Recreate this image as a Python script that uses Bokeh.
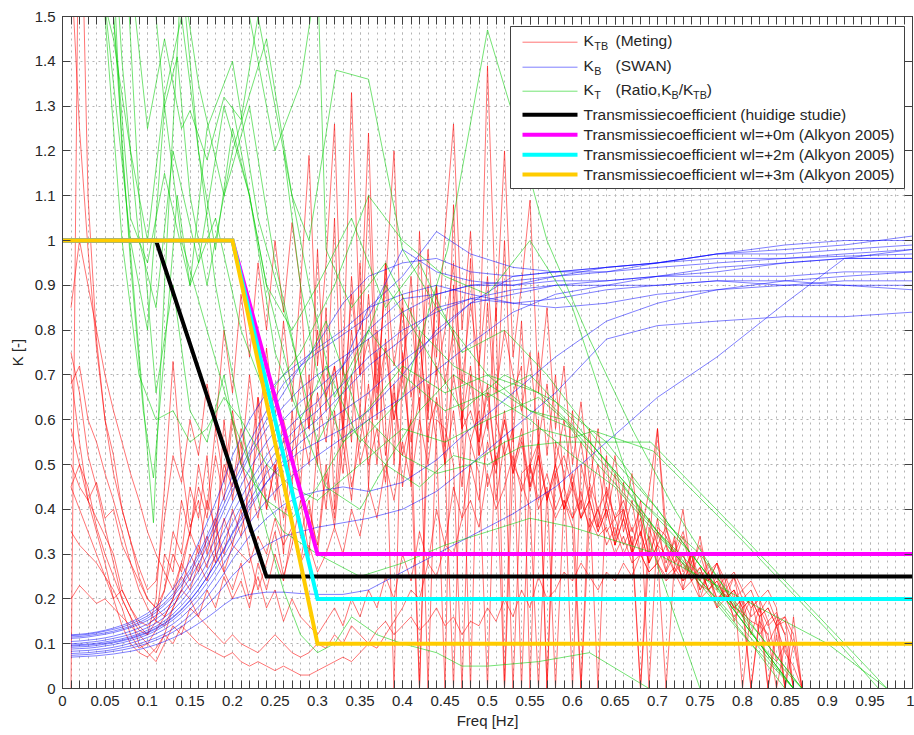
import numpy as np
from bokeh.plotting import figure
from bokeh.models import Range1d, FixedTicker, LinearAxis, CustomJSTickFormatter
from bokeh.embed import file_html
from bokeh.resources import INLINE
from bokeh.core.properties import value

FONT = "Liberation Sans"

# ---------------------------------------------------------------- data
# measured spectra are given on 0.01 Hz bins starting at 0.01 Hz
FREQ_BINS = np.round(np.arange(1, 101) * 0.01, 2)

# K_TB (Meting): one list per measurement, values per 0.01 Hz bin
ktb_meting = [
    [1.62, 1.25, 0.98, 0.76, 0.60, 0.48, 0.40, 0.33, 0.27, 0.22,
     0.24, 0.38, 0.52, 0.46, 0.60, 0.52, 0.68, 0.58, 0.80, 0.66,
     0.88, 0.74, 0.95, 0.80, 1.00, 0.84, 1.04, 0.90, 1.19, 0.72,
     0.95, 1.26, 0.70, 1.33, 0.80, 1.24, 0.68, 0.90, 1.20, 0.70,
     0.92, 0.66, 0.98, 0.74, 1.02, 1.26, 0.80, 1.02, 0.70, 1.39,
     0.82, 1.20, 0.74, 0.90, 1.09, 0.66, 0.85, 0.58, 0.72, 0.50,
     0.64, 0.46, 0.58, 0.42, 0.52, 0.38, 0.48, 0.34, 0.44, 0.58,
     0.36, 0.30, 0.40, 0.26, 0.34, 0.24, 0.28, 0.20, 0.25, 0.16,
     0.20, 0.12, 0.15, 0.06, 0.10, 0.00],
    [0.75, 0.66, 0.52, 0.45, 0.36, 0.28, 0.20, 0.16, 0.13, 0.12,
     0.15, 0.30, 0.26, 0.42, 0.34, 0.50, 0.40, 0.58, 0.46, 0.62,
     0.50, 0.70, 0.55, 0.76, 0.60, 0.82, 0.64, 0.90, 0.58, 0.98,
     0.62, 1.05, 0.55, 0.92, 0.70, 1.10, 0.60, 0.95, 0.50, 0.88,
     0.45, 1.02, 0.62, 0.90, 0.50, 1.08, 0.58, 0.96, 0.52, 0.86,
     0.60, 1.00, 0.55, 0.82, 0.48, 0.75, 0.52, 0.70, 0.45, 0.62,
     0.40, 0.58, 0.36, 0.52, 0.32, 0.46, 0.30, 0.42, 0.28, 0.38,
     0.26, 0.34, 0.22, 0.30, 0.20, 0.26, 0.18, 0.24, 0.15, 0.20,
     0.12, 0.18, 0.10, 0.14, 0.08, 0.05, 0.00],
    [0.00, 1.95, 1.10, 0.78, 0.60, 0.52, 0.40, 0.33, 0.25, 0.20,
     0.18, 0.22, 0.35, 0.30, 0.45, 0.38, 0.52, 0.30, 0.60, 0.42,
     0.55, 0.35, 0.65, 0.40, 0.50, 0.30, 0.62, 0.45, 0.70, 0.50,
     0.85, 0.40, 0.72, 0.55, 0.95, 0.45, 0.80, 0.60, 0.00, 0.75,
     0.50, 0.00, 0.68, 0.55, 0.00, 0.90, 0.62, 0.00, 0.70, 0.58,
     0.85, 0.00, 0.66, 0.72, 0.00, 0.60, 0.00, 0.55, 0.48, 0.00,
     0.50, 0.42, 0.00, 0.45, 0.38, 0.40, 0.32, 0.00, 0.36, 0.30,
     0.00, 0.28, 0.25, 0.30, 0.22, 0.26, 0.20, 0.22, 0.18, 0.20,
     0.00, 0.16, 0.00, 0.12, 0.00, 0.10, 0.00],
    [0.58, 0.50, 0.45, 0.36, 0.30, 0.25, 0.20, 0.16, 0.10, 0.08,
     0.06, 0.10, 0.14, 0.12, 0.18, 0.16, 0.22, 0.18, 0.25, 0.20,
     0.24, 0.18, 0.28, 0.22, 0.30, 0.24, 0.35, 0.28, 0.40, 0.32,
     0.50, 0.38, 0.60, 0.45, 0.55, 0.68, 0.50, 0.78, 0.60, 0.72,
     0.85, 0.62, 0.90, 0.70, 0.80, 0.95, 0.68, 0.86, 0.72, 0.92,
     0.66, 0.80, 0.70, 0.62, 0.75, 0.55, 0.68, 0.50, 0.60, 0.45,
     0.55, 0.42, 0.50, 0.38, 0.48, 0.35, 0.42, 0.30, 0.38, 0.32,
     0.36, 0.28, 0.34, 0.26, 0.30, 0.24, 0.28, 0.22, 0.25, 0.20,
     0.22, 0.17, 0.20, 0.15, 0.16, 0.12, 0.00],
    [0.70, 0.55, 0.42, 0.35, 0.28, 0.20, 0.14, 0.10, 0.08, 0.07,
     0.09, 0.12, 0.10, 0.14, 0.12, 0.10, 0.09, 0.08, 0.07, 0.08,
     0.06, 0.05, 0.06, 0.05, 0.04, 0.05, 0.04, 0.03, 0.03, 0.04,
     0.05, 0.06, 0.07, 0.06, 0.08, 0.10, 0.09, 0.12, 0.15, 0.18,
     0.22, 0.20, 0.28, 0.25, 0.32, 0.30, 0.38, 0.42, 0.36, 0.48,
     0.40, 0.45, 0.52, 0.44, 0.50, 0.42, 0.48, 0.40, 0.45, 0.38,
     0.42, 0.36, 0.40, 0.35, 0.38, 0.32, 0.36, 0.30, 0.34, 0.28,
     0.32, 0.26, 0.30, 0.24, 0.27, 0.22, 0.24, 0.20, 0.22, 0.18,
     0.20, 0.16, 0.18, 0.14, 0.15, 0.10],
    [0.45, 0.40, 0.35, 0.30, 0.25, 0.22, 0.18, 0.12, 0.09, 0.10,
     0.08, 0.12, 0.18, 0.22, 0.20, 0.16, 0.14, 0.12, 0.10, 0.12,
     0.10, 0.09, 0.08, 0.10, 0.12, 0.10, 0.08, 0.07, 0.08, 0.10,
     0.09, 0.12, 0.10, 0.14, 0.12, 0.10, 0.13, 0.15, 0.12, 0.14,
     0.16, 0.13, 0.15, 0.18, 0.14, 0.16, 0.12, 0.15, 0.14, 0.18,
     0.15, 0.20, 0.16, 0.22, 0.18, 0.25, 0.20, 0.22, 0.26, 0.24,
     0.28, 0.25, 0.22, 0.26, 0.24, 0.28, 0.25, 0.30, 0.26, 0.28,
     0.25, 0.27, 0.24, 0.26, 0.23, 0.22, 0.20, 0.21, 0.18, 0.17,
     0.15, 0.14, 0.12],
    [0.50, 0.45, 0.42, 0.38, 0.34, 0.30, 0.22, 0.18, 0.14, 0.12,
     0.20, 0.45, 0.73, 0.50, 0.36, 0.42, 0.30, 0.38, 0.26, 0.32,
     0.40, 0.30, 0.22, 0.28, 0.35, 0.25, 0.32, 0.42, 0.30, 0.55,
     0.40, 0.62, 0.48, 0.70, 0.50, 0.58, 0.75, 0.52, 0.68, 0.45,
     0.60, 0.80, 0.55, 0.72, 0.50, 0.62, 0.45, 0.70, 0.52, 0.60,
     0.42, 0.55, 0.00, 0.48, 0.50, 0.40, 0.45, 0.00, 0.42, 0.38,
     0.44, 0.35, 0.40, 0.32, 0.36, 0.30, 0.34, 0.00, 0.30, 0.58,
     0.32, 0.28, 0.30, 0.25, 0.27, 0.22, 0.25, 0.20, 0.22, 0.00,
     0.18, 0.20, 0.00, 0.15, 0.00],
    [0.35, 0.32, 0.30, 0.28, 0.25, 0.20, 0.22, 0.18, 0.15, 0.14,
     0.16, 0.22, 0.30, 0.26, 0.35, 0.45, 0.38, 0.52, 0.42, 0.60,
     0.50, 0.45, 0.55, 0.40, 0.50, 0.38, 0.46, 0.34, 0.42, 0.30,
     0.48, 0.36, 0.55, 0.42, 0.62, 0.50, 0.58, 0.46, 0.66, 0.52,
     0.60, 0.00, 0.58, 0.64, 0.50, 0.00, 0.62, 0.55, 0.48, 0.00,
     0.60, 0.52, 0.58, 0.00, 0.50, 0.55, 0.00, 0.48, 0.52, 0.45,
     0.00, 0.46, 0.40, 0.44, 0.38, 0.42, 0.35, 0.40, 0.00, 0.36,
     0.34, 0.30, 0.35, 0.28, 0.32, 0.26, 0.28, 0.24, 0.26, 0.22,
     0.24, 0.20, 0.22, 0.18, 0.00, 0.16, 0.00],
    [0.20, 0.23, 0.21, 0.19, 0.20, 0.18, 0.16, 0.14, 0.12, 0.10,
     0.13, 0.16, 0.20, 0.25, 0.22, 0.28, 0.24, 0.30, 0.26, 0.22,
     0.28, 0.20, 0.25, 0.18, 0.22, 0.15, 0.20, 0.16, 0.14, 0.12,
     0.15, 0.18, 0.14, 0.20, 0.16, 0.22, 0.18, 0.25, 0.20, 0.30,
     0.24, 0.35, 0.28, 0.40, 0.32, 0.45, 0.38, 0.50, 0.42, 0.55,
     0.48, 0.60, 0.50, 0.56, 0.45, 0.52, 0.42, 0.50, 0.40, 0.46,
     0.38, 0.42, 0.35, 0.40, 0.32, 0.38, 0.30, 0.35, 0.28, 0.32,
     0.26, 0.30, 0.24, 0.28, 0.22, 0.25, 0.20, 0.22, 0.18, 0.20,
     0.16, 0.18, 0.14, 0.16, 0.12],
    [0.45, 0.50, 0.42, 0.46, 0.38, 0.40, 0.32, 0.28, 0.24, 0.20,
     0.18, 0.16, 0.20, 0.28, 0.35, 0.30, 0.42, 0.36, 0.50, 0.45,
     0.58, 0.50, 0.65, 0.55, 0.48, 0.60, 0.52, 0.70, 0.58, 0.80,
     0.65, 0.72, 0.60, 0.88, 0.70, 0.78, 0.62, 0.95, 0.72, 0.85,
     0.65, 0.78, 0.60, 0.90, 0.68, 0.80, 0.60, 0.72, 0.55, 0.66,
     0.50, 0.62, 0.48, 0.58, 0.45, 0.55, 0.42, 0.50, 0.40, 0.48,
     0.38, 0.45, 0.36, 0.42, 0.34, 0.40, 0.32, 0.38, 0.30, 0.35,
     0.28, 0.33, 0.26, 0.30, 0.24, 0.28, 0.22, 0.25, 0.20, 0.22,
     0.18, 0.20, 0.15, 0.17, 0.12, 0.00],
    [0.85, 1.00, 0.90, 0.80, 0.70, 0.62, 0.55, 0.48, 0.42, 0.35,
     0.30, 0.26, 0.22, 0.28, 0.24, 0.32, 0.27, 0.36, 0.30, 0.40,
     0.34, 0.45, 0.38, 0.50, 0.42, 0.56, 0.46, 0.60, 0.50, 0.66,
     0.55, 0.72, 0.58, 0.80, 0.62, 0.88, 0.66, 0.76, 0.60, 0.70,
     0.55, 0.65, 0.00, 0.60, 0.58, 0.50, 0.00, 0.55, 0.62, 0.45,
     0.52, 0.00, 0.50, 0.46, 0.40, 0.00, 0.44, 0.38, 0.42, 0.36,
     0.00, 0.38, 0.34, 0.36, 0.30, 0.34, 0.28, 0.30, 0.26, 0.28,
     0.24, 0.26, 0.22, 0.24, 0.20, 0.22, 0.18, 0.20, 0.16, 0.18,
     0.00, 0.15, 0.12, 0.00, 0.10],
    [0.68, 0.72, 0.60, 0.55, 0.48, 0.42, 0.35, 0.28, 0.22, 0.18,
     0.15, 0.14, 0.18, 0.22, 0.30, 0.26, 0.34, 0.28, 0.38, 0.32,
     0.30, 0.28, 0.34, 0.30, 0.38, 0.32, 0.36, 0.28, 0.32, 0.26,
     0.30, 0.36, 0.30, 0.40, 0.34, 0.45, 0.38, 0.50, 0.42, 0.55,
     0.46, 0.60, 0.50, 0.65, 0.54, 0.70, 0.58, 0.62, 0.55, 0.68,
     0.50, 0.60, 0.48, 0.55, 0.44, 0.52, 0.42, 0.48, 0.40, 0.45,
     0.38, 0.42, 0.35, 0.40, 0.32, 0.38, 0.30, 0.35, 0.28, 0.32,
     0.30, 0.26, 0.28, 0.24, 0.26, 0.22, 0.24, 0.20, 0.22, 0.18,
     0.20, 0.16, 0.18, 0.14, 0.16, 0.00],
]

# K_B (SWAN): fine bins up to 0.2 Hz, coarser above
swan_freq = [0.01, 0.02, 0.03, 0.04, 0.05, 0.06, 0.07, 0.08, 0.09, 0.10,
             0.11, 0.12, 0.13, 0.14, 0.15, 0.16, 0.17, 0.18, 0.19, 0.20,
             0.22, 0.24, 0.26, 0.28, 0.30, 0.33, 0.36, 0.40, 0.44, 0.48,
             0.53, 0.58, 0.64, 0.70, 0.77, 0.85, 0.92, 1.00]
kb_swan = [
    [0.120, 0.121, 0.123, 0.126, 0.130, 0.135, 0.141, 0.148, 0.157, 0.168,
     0.182, 0.200, 0.222, 0.250, 0.285, 0.325, 0.370, 0.415, 0.465, 0.520,
     0.60, 0.66, 0.70, 0.73, 0.76, 0.80, 0.85, 0.92, 1.02, 0.97, 0.94, 0.93, 0.93, 0.94, 0.95, 0.96, 0.965, 0.97],
    [0.118, 0.119, 0.121, 0.124, 0.128, 0.132, 0.137, 0.144, 0.152, 0.162,
     0.175, 0.191, 0.211, 0.236, 0.266, 0.300, 0.340, 0.382, 0.428, 0.475,
     0.55, 0.62, 0.68, 0.72, 0.75, 0.79, 0.83, 0.98, 0.93, 0.91, 0.90, 0.92, 0.94, 0.95, 0.97, 0.98, 0.99, 1.01],
    [0.112, 0.113, 0.115, 0.118, 0.121, 0.125, 0.130, 0.136, 0.143, 0.152,
     0.163, 0.177, 0.195, 0.218, 0.246, 0.279, 0.316, 0.356, 0.398, 0.440,
     0.52, 0.58, 0.63, 0.67, 0.70, 0.74, 0.78, 0.84, 0.88, 0.90, 0.91, 0.92, 0.93, 0.95, 0.96, 0.96, 0.97, 0.98],
    [0.105, 0.106, 0.108, 0.110, 0.113, 0.117, 0.122, 0.128, 0.135, 0.144,
     0.155, 0.169, 0.186, 0.207, 0.232, 0.262, 0.296, 0.334, 0.374, 0.415,
     0.49, 0.55, 0.60, 0.64, 0.67, 0.72, 0.80, 0.87, 0.88, 0.90, 0.90, 0.91, 0.91, 0.92, 0.92, 0.92, 0.93, 0.93],
    [0.100, 0.101, 0.103, 0.105, 0.108, 0.112, 0.116, 0.121, 0.128, 0.136,
     0.146, 0.159, 0.175, 0.195, 0.219, 0.247, 0.279, 0.314, 0.352, 0.392,
     0.46, 0.52, 0.57, 0.61, 0.64, 0.72, 0.85, 0.88, 0.90, 0.88, 0.86, 0.87, 0.89, 0.90, 0.91, 0.91, 0.90, 0.90],
    [0.097, 0.098, 0.099, 0.101, 0.104, 0.107, 0.111, 0.116, 0.122, 0.130,
     0.139, 0.151, 0.166, 0.185, 0.207, 0.233, 0.263, 0.296, 0.332, 0.370,
     0.44, 0.50, 0.55, 0.59, 0.62, 0.68, 0.74, 0.80, 0.84, 0.87, 0.89, 0.90, 0.90, 0.90, 0.91, 0.90, 0.90, 0.89],
    [0.092, 0.093, 0.094, 0.096, 0.099, 0.102, 0.106, 0.111, 0.117, 0.124,
     0.133, 0.144, 0.158, 0.175, 0.196, 0.220, 0.248, 0.279, 0.313, 0.348,
     0.42, 0.48, 0.53, 0.57, 0.60, 0.66, 0.72, 0.78, 0.85, 0.87, 0.86, 0.85, 0.86, 0.88, 0.89, 0.90, 0.91, 0.91],
    [0.088, 0.089, 0.090, 0.092, 0.095, 0.098, 0.102, 0.107, 0.113, 0.120,
     0.129, 0.140, 0.153, 0.169, 0.188, 0.210, 0.236, 0.265, 0.297, 0.330,
     0.40, 0.46, 0.51, 0.55, 0.58, 0.62, 0.66, 0.73, 0.79, 0.86, 0.92, 0.93, 0.94, 0.95, 0.97, 0.99, 1.00, 1.00],
    [0.083, 0.084, 0.085, 0.087, 0.089, 0.092, 0.096, 0.101, 0.107, 0.114,
     0.122, 0.132, 0.144, 0.159, 0.177, 0.198, 0.222, 0.249, 0.279, 0.311,
     0.37, 0.42, 0.46, 0.49, 0.52, 0.56, 0.60, 0.65, 0.71, 0.77, 0.84, 0.88, 0.90, 0.92, 0.94, 0.95, 0.96, 0.96],
    [0.078, 0.079, 0.080, 0.082, 0.084, 0.087, 0.091, 0.095, 0.100, 0.106,
     0.113, 0.122, 0.133, 0.147, 0.163, 0.182, 0.204, 0.229, 0.257, 0.288,
     0.34, 0.38, 0.41, 0.43, 0.44, 0.45, 0.44, 0.46, 0.51, 0.58, 0.66, 0.74, 0.82, 0.86, 0.89, 0.91, 0.92, 0.93],
    [0.074, 0.075, 0.076, 0.078, 0.080, 0.083, 0.086, 0.090, 0.095, 0.101,
     0.108, 0.116, 0.126, 0.138, 0.152, 0.168, 0.186, 0.206, 0.228, 0.252,
     0.29, 0.32, 0.34, 0.35, 0.36, 0.37, 0.38, 0.40, 0.44, 0.50, 0.58, 0.66, 0.78, 0.81, 0.82, 0.83, 0.83, 0.84],
    [0.070, 0.071, 0.072, 0.073, 0.075, 0.077, 0.080, 0.083, 0.087, 0.092,
     0.098, 0.105, 0.113, 0.122, 0.133, 0.145, 0.158, 0.172, 0.187, 0.200,
     0.21, 0.215, 0.215, 0.212, 0.21, 0.21, 0.22, 0.26, 0.30, 0.34, 0.39, 0.45, 0.55, 0.65, 0.74, 0.86, 0.96, 0.98],
    [0.115, 0.116, 0.118, 0.121, 0.124, 0.128, 0.133, 0.139, 0.147, 0.157,
     0.170, 0.186, 0.205, 0.229, 0.258, 0.292, 0.330, 0.370, 0.412, 0.455,
     0.53, 0.60, 0.66, 0.72, 0.77, 0.86, 0.92, 0.95, 0.96, 0.93, 0.92, 0.93, 0.94, 0.95, 0.97, 0.97, 0.98, 0.99],
    [0.095, 0.096, 0.097, 0.099, 0.101, 0.104, 0.108, 0.113, 0.119, 0.126,
     0.135, 0.146, 0.160, 0.177, 0.197, 0.221, 0.248, 0.278, 0.310, 0.345,
     0.41, 0.46, 0.50, 0.53, 0.55, 0.58, 0.62, 0.70, 0.80, 0.86, 0.88, 0.90, 0.91, 0.92, 0.93, 0.95, 0.96, 0.96],
]

# K_T (Ratio, K_B/K_TB): each entry is (frequencies, values)
kt_ratio = [
    ([0.03, 0.05, 0.07, 0.09, 0.107, 0.12, 0.14, 0.16, 0.19, 0.22, 0.25, 0.28, 0.31, 0.35, 0.4, 0.45, 0.5, 0.55, 0.6, 0.66, 0.72, 0.78, 0.86],
     [3.0, 2.0, 1.2, 0.75, 0.37, 0.9, 1.6, 1.35, 1.1, 1.3, 0.95, 0.7, 0.82, 0.6, 0.72, 0.66, 0.7, 0.62, 0.58, 0.45, 0.3, 0.18, 0.0]),
    ([0.04, 0.06, 0.08, 0.095, 0.107, 0.12, 0.135, 0.15, 0.17, 0.2, 0.23, 0.26, 0.3, 0.34, 0.38, 0.42, 0.47, 0.52, 0.58, 0.64, 0.7, 0.76, 0.82, 0.87],
     [2.4, 1.5, 0.95, 0.62, 0.47, 0.75, 1.1, 0.9, 1.25, 1.4, 1.05, 0.85, 0.55, 0.7, 0.9, 0.78, 0.62, 0.7, 0.64, 0.55, 0.4, 0.25, 0.12, 0.0]),
    ([0.02, 0.04, 0.06, 0.08, 0.1, 0.12, 0.135, 0.15, 0.17, 0.2, 0.24, 0.27, 0.29, 0.322, 0.36, 0.4, 0.44, 0.5, 0.56, 0.62, 0.68, 0.74, 0.8, 0.86],
     [2.2, 1.7, 1.35, 1.0, 0.8, 1.3, 1.41, 1.1, 0.9, 1.2, 1.45, 1.1, 1.0, 1.38, 1.36, 0.98, 0.85, 0.7, 0.66, 0.55, 0.42, 0.3, 0.15, 0.0]),
    ([0.05, 0.07, 0.09, 0.11, 0.13, 0.16, 0.19, 0.22, 0.25, 0.28, 0.31, 0.35, 0.4, 0.453, 0.5, 0.53, 0.57, 0.62, 0.67, 0.72, 0.77, 0.82, 0.87],
     [2.0, 1.4, 1.0, 0.85, 1.2, 0.95, 1.3, 1.1, 0.75, 0.6, 0.72, 0.55, 0.65, 0.98, 1.47, 1.28, 1.0, 0.78, 0.58, 0.4, 0.25, 0.1, 0.0]),
    ([0.06, 0.08, 0.1, 0.12, 0.14, 0.15, 0.17, 0.19, 0.21, 0.23, 0.26, 0.29, 0.32, 0.36, 0.4, 0.45, 0.5, 0.55, 0.6, 0.65, 0.72, 0.8, 0.86],
     [2.2, 1.6, 1.25, 1.45, 1.25, 1.29, 1.18, 1.32, 1.27, 1.5, 1.2, 0.9, 0.65, 0.8, 0.7, 0.62, 0.66, 0.6, 0.52, 0.45, 0.3, 0.12, 0.0]),
    ([0.14, 0.16, 0.18, 0.2, 0.22, 0.24, 0.26, 0.28, 0.3, 0.32, 0.34, 0.37, 0.4, 0.44, 0.47, 0.5, 0.56, 0.62, 0.69],
     [1.6, 1.2, 0.9, 0.7, 0.5, 0.35, 0.22, 0.12, 0.08, 0.1, 0.16, 0.12, 0.1, 0.08, 0.05, 0.05, 0.06, 0.08, 0.0]),
    ([0.1, 0.12, 0.14, 0.17, 0.2, 0.23, 0.26, 0.3, 0.35, 0.4, 0.45, 0.5, 0.55, 0.6, 0.65, 0.7, 0.8, 0.9, 0.97],
     [1.7, 1.3, 1.0, 0.8, 0.6, 0.45, 0.35, 0.3, 0.25, 0.28, 0.32, 0.35, 0.38, 0.36, 0.33, 0.3, 0.2, 0.1, 0.0]),
    ([0.2, 0.22, 0.25, 0.28, 0.3, 0.31, 0.34, 0.38, 0.42, 0.46, 0.5, 0.55, 0.59, 0.63, 0.7, 0.78, 0.86],
     [1.6, 1.5, 1.2, 1.35, 1.6, 0.98, 0.85, 0.95, 0.8, 0.72, 0.68, 0.62, 0.6, 0.5, 0.35, 0.2, 0.0]),
    ([0.26, 0.28, 0.3, 0.33, 0.36, 0.4, 0.44, 0.48, 0.52, 0.56, 0.6, 0.625, 0.695, 0.8, 0.9, 0.96],
     [1.2, 0.9, 0.7, 0.55, 0.6, 0.52, 0.48, 0.5, 0.55, 0.58, 0.56, 0.575, 0.53, 0.33, 0.13, 0.0]),
    ([0.2, 0.24, 0.28, 0.31, 0.35, 0.38, 0.42, 0.46, 0.5, 0.54, 0.586, 0.692, 0.8, 0.9, 0.97],
     [1.3, 0.9, 0.6, 0.45, 0.4, 0.5, 0.45, 0.52, 0.5, 0.54, 0.55, 0.55, 0.34, 0.14, 0.0]),
    ([0.02, 0.04, 0.06, 0.08, 0.1, 0.12, 0.15, 0.18, 0.21, 0.24, 0.28, 0.32, 0.36, 0.4, 0.45, 0.5, 0.55, 0.6, 0.66, 0.71, 0.75],
     [2.8, 2.0, 1.5, 1.05, 0.95, 1.15, 0.9, 1.05, 0.8, 0.65, 0.75, 0.9, 1.1, 1.0, 0.92, 0.88, 1.0, 0.85, 0.5, 0.22, 0.0]),
    ([0.07, 0.09, 0.11, 0.13, 0.15, 0.17, 0.19, 0.21, 0.24, 0.27, 0.3, 0.34, 0.38, 0.42, 0.46, 0.5, 0.55, 0.6, 0.65, 0.7, 0.76, 0.81, 0.85],
     [1.8, 1.1, 0.66, 0.9, 0.62, 0.55, 0.7, 0.5, 0.42, 0.38, 0.45, 0.58, 0.5, 0.62, 0.7, 0.65, 0.7, 0.6, 0.48, 0.35, 0.22, 0.1, 0.0]),
    ([0.04, 0.06, 0.08, 0.1, 0.12, 0.14, 0.16, 0.18, 0.2, 0.22, 0.24, 0.27, 0.3, 0.34, 0.38, 0.42, 0.47, 0.52, 0.57, 0.63, 0.7, 0.78, 0.86],
     [1.6, 1.45, 1.2, 1.0, 1.32, 1.5, 1.2, 0.98, 1.25, 1.1, 0.9, 0.8, 0.9, 1.05, 0.85, 0.95, 0.75, 0.8, 0.7, 0.55, 0.4, 0.2, 0.0]),
    ([0.05, 0.07, 0.09, 0.11, 0.13, 0.15, 0.17, 0.19, 0.21, 0.24, 0.27, 0.3, 0.35, 0.4, 0.45, 0.5, 0.56, 0.62, 0.68, 0.75, 0.82, 0.87],
     [1.5, 1.0, 0.7, 0.6, 0.62, 0.55, 0.58, 0.65, 0.6, 0.5, 0.45, 0.42, 0.5, 0.58, 0.55, 0.6, 0.65, 0.55, 0.42, 0.3, 0.12, 0.0]),
]

# design transmission curves (corner points)
study_freq = [0.0, 0.11, 0.24, 1.0]
study_k = [1.0, 1.0, 0.25, 0.25]
alkyon_freq = [0.0, 0.2, 0.3, 1.0]
alkyon_wl0_k = [1.0, 1.0, 0.3, 0.3]
alkyon_wl2_k = [1.0, 1.0, 0.2, 0.2]
alkyon_wl3_k = [1.0, 1.0, 0.1, 0.1]

x_major = [round(0.05 * i, 2) for i in range(21)]
x_minor = [round(0.01 * i, 2) for i in range(101)]
y_major = [round(0.1 * i, 1) for i in range(16)]

# ---------------------------------------------------------------- styling
RED, BLUE, GREEN = "#ff0000", "#0000ff", "#00cc00"
THIN_ALPHA = 0.55
MAGENTA, CYAN, GOLD = "#ff00ff", "#00ffff", "#ffcc00"
AX = "#404040"
TXT = "#262626"

W, H = 914, 735
BL, BR, BT, BB = 62, 2, 16, 47
FW, FH = W - BL - BR, H - BT - BB
X0, X1, Y0, Y1 = 0.0, 1.0, 0.0, 1.5

p = figure(width=W, height=H, x_range=Range1d(X0, X1), y_range=Range1d(Y0, Y1),
           output_backend="svg", toolbar_location=None,
           min_border_left=BL, min_border_right=BR, min_border_top=BT, min_border_bottom=BB,
           background_fill_color="white", border_fill_color="white")
p.outline_line_color = AX

xt = FixedTicker(ticks=x_major, minor_ticks=x_minor)
yt = FixedTicker(ticks=y_major, minor_ticks=[])
fmt = CustomJSTickFormatter(code="return String(Math.round(tick * 100) / 100);")
blank = CustomJSTickFormatter(code="return '';")


def style_axis(ax, show_minor):
    ax.axis_line_color = AX
    ax.major_tick_line_color = AX
    ax.minor_tick_line_color = AX if show_minor else None
    ax.major_tick_in = 8
    ax.major_tick_out = 0
    ax.minor_tick_in = 8
    ax.minor_tick_out = 0
    ax.major_label_text_font = FONT
    ax.major_label_text_font_size = "15px"
    ax.major_label_text_color = TXT
    ax.axis_label_text_font = FONT
    ax.axis_label_text_font_size = "15px"
    ax.axis_label_text_font_style = "normal"
    ax.axis_label_text_color = TXT


xa = p.xaxis[0]
xa.ticker = xt
xa.formatter = fmt
style_axis(xa, True)
xa.axis_label = "Freq [Hz]"
xa.major_label_standoff = 7
xa.axis_label_standoff = 3

ya = p.yaxis[0]
ya.ticker = yt
ya.formatter = fmt
style_axis(ya, False)
ya.axis_label = "K [-]"
ya.major_label_standoff = 7
ya.axis_label_standoff = 6

top = LinearAxis(ticker=xt, formatter=blank)
style_axis(top, True)
top.major_label_text_font_size = "0px"
top.major_label_standoff = 0
p.add_layout(top, "above")

right = LinearAxis(ticker=yt, formatter=blank)
style_axis(right, False)
right.major_label_text_font_size = "0px"
right.major_label_standoff = 0
p.add_layout(right, "right")

for g, t in ((p.xgrid[0], xt), (p.ygrid[0], yt)):
    g.ticker = t
    g.grid_line_color = "#b4b4b4"
    g.grid_line_dash = "dotted"
    g.grid_line_width = 1
p.xgrid[0].minor_grid_line_color = "#b4b4b4"
p.xgrid[0].minor_grid_line_dash = "dotted"

# ---------------------------------------------------------------- series
for vals in ktb_meting:
    p.line(FREQ_BINS[:len(vals)], vals, line_color=RED, line_alpha=THIN_ALPHA, line_width=1)
for vals in kb_swan:
    p.line(swan_freq, vals, line_color=BLUE, line_alpha=0.5, line_width=1)
for f, vals in kt_ratio:
    p.line(f, vals, line_color=GREEN, line_alpha=THIN_ALPHA, line_width=1)

p.line(study_freq, study_k, line_color="black", line_width=4, line_join="miter")
p.line(alkyon_freq, alkyon_wl0_k, line_color=MAGENTA, line_width=4, line_join="miter")
p.line(alkyon_freq, alkyon_wl2_k, line_color=CYAN, line_width=4, line_join="miter")
p.line(alkyon_freq, alkyon_wl3_k, line_color=GOLD, line_width=4, line_join="miter")

# ---------------------------------------------------------------- legend
# laid out in frame pixels, converted to data space


def fx(px):
    return X0 + px / FW * (X1 - X0)


def fy(py):
    return Y1 - py / FH * (Y1 - Y0)


p.quad(left=[fx(448)], right=[fx(842)], top=[fy(10)], bottom=[fy(172)],
       fill_color="white", line_color=AX, line_width=1)

SAMPLE_L, SAMPLE_R, TEXT_X = 460, 515, 521
SUB_DY = 6
legend_rows = [
    (25.7, RED, 1, THIN_ALPHA, [(0, "K", False), (10.8, "TB", True), (32, "(Meting)", False)]),
    (50.7, BLUE, 1, 0.5, [(0, "K", False), (10.8, "B", True), (32, "(SWAN)", False)]),
    (74.7, GREEN, 1, THIN_ALPHA, [(0, "K", False), (10.8, "T", True), (32, "(Ratio,K", False),
                                  (88.0, "B", True), (95.2, "/K", False), (109.6, "TB", True),
                                  (123.2, ")", False)]),
    (98.3, "black", 4, 1.0, [(0, "Transmissiecoefficient (huidige studie)", False)]),
    (118.3, MAGENTA, 4, 1.0, [(0, "Transmissiecoefficient wl=+0m (Alkyon 2005)", False)]),
    (138.3, CYAN, 4, 1.0, [(0, "Transmissiecoefficient wl=+2m (Alkyon 2005)", False)]),
    (158.0, GOLD, 4, 1.0, [(0, "Transmissiecoefficient wl=+3m (Alkyon 2005)", False)]),
]

for ry, color, lw, alpha, pieces in legend_rows:
    p.line([fx(SAMPLE_L), fx(SAMPLE_R)], [fy(ry), fy(ry)], line_color=color,
           line_width=lw, line_alpha=alpha)
    base = ry - 2 if lw == 1 else ry
    for dx, txt, sub in pieces:
        p.text(x=[fx(TEXT_X + dx)], y=[fy(base + (SUB_DY if sub else 0))], text=[txt],
               text_font=value(FONT), text_font_size="10.8px" if sub else "15.5px",
               text_baseline="middle", text_align="left", text_color=TXT)

open("out.html", "w").write(file_html(p, INLINE, title="Transmissiecoefficient"))
